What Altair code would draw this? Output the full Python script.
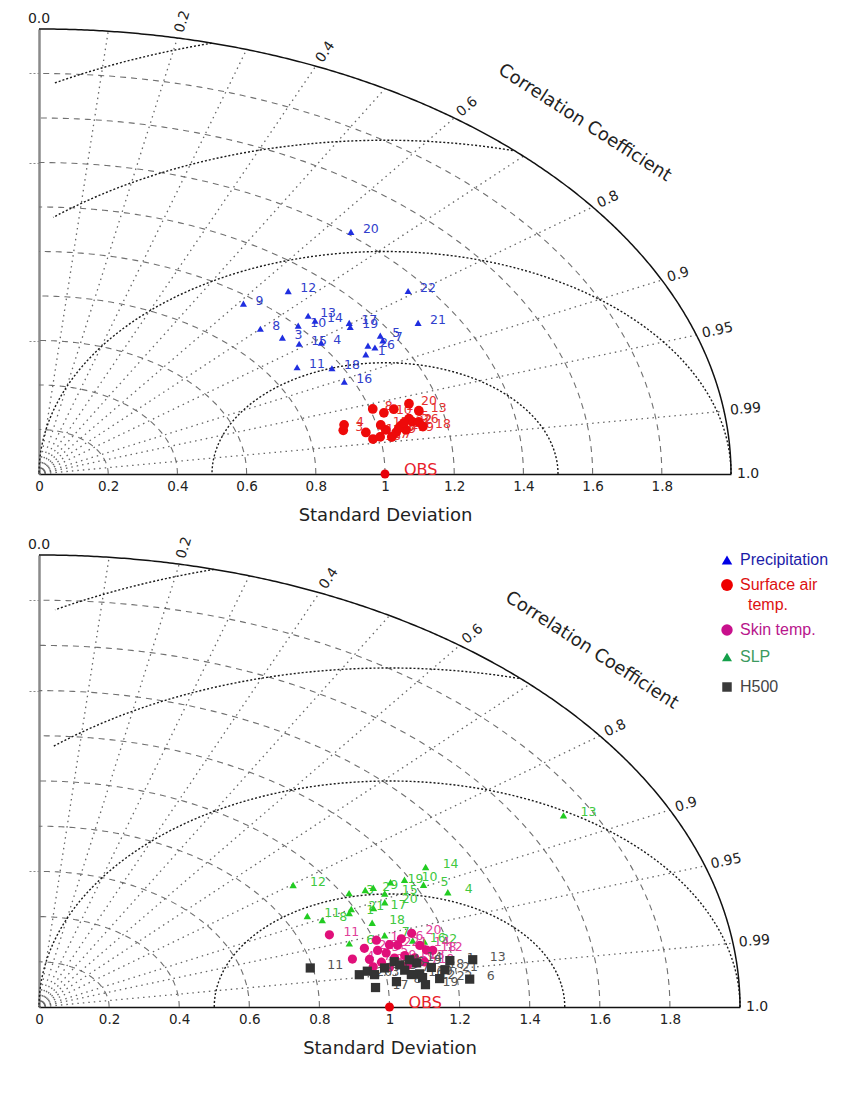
import math
import altair as alt
import pandas as pd

# ---------------- data ----------------
MODEL_LABELS = [str(i) for i in range(1, 23)]

# Top panel
PRECIP_STD = [1.087, 1.112, 0.933, 1.007, 1.166, 1.125, 1.161, 0.914, 0.967, 1.003, 0.887,
              1.093, 1.054, 1.054, 0.953, 0.975, 1.125, 0.971, 1.116, 1.413, 1.289, 1.347]
PRECIP_CORR = [0.869, 0.855, 0.754, 0.810, 0.846, 0.863, 0.856, 0.700, 0.611, 0.747, 0.841,
               0.659, 0.738, 0.757, 0.789, 0.905, 0.797, 0.872, 0.806, 0.638, 0.850, 0.792]

SAT_STD = [1.066, 1.104, 0.901, 0.909, 1.098, 1.122, 1.033, 1.008, 1.049, 1.034, 0.963,
           1.022, 1.134, 1.069, 1.012, 0.978, 1.000, 1.130, 1.079, 1.115, 1.060, 1.080]
SAT_CORR = [0.962, 0.977, 0.976, 0.970, 0.974, 0.978, 0.987, 0.957, 0.984, 0.964, 0.981,
            0.981, 0.968, 0.979, 0.976, 0.987, 0.986, 0.982, 0.983, 0.959, 0.981, 0.977]

# Bottom panel
SKIN_STD = [1.007, 1.037, 0.998, 0.919, 1.019, 1.077, 0.966, 0.997, 1.037, 1.068, 0.888,
            1.151, 1.094, 1.120, 0.970, 1.015, 1.068, 1.134, 1.118, 1.112, 1.059, 0.964]
SKIN_CORR = [0.956, 0.964, 0.968, 0.973, 0.972, 0.960, 0.976, 0.980, 0.978, 0.977, 0.933,
             0.976, 0.980, 0.970, 0.983, 0.985, 0.985, 0.975, 0.984, 0.956, 0.966, 0.963]

SLP_STD = [0.978, 1.065, 1.018, 1.272, 1.223, 0.929, 1.036, 0.895, 1.090, 1.185, 0.865,
           0.904, 1.720, 1.265, 1.107, 1.106, 1.050, 1.021, 1.145, 1.090, 0.991, 1.137]
SLP_CORR = [0.905, 0.874, 0.869, 0.917, 0.897, 0.953, 0.952, 0.903, 0.875, 0.880, 0.885,
            0.802, 0.870, 0.872, 0.891, 0.964, 0.909, 0.931, 0.876, 0.905, 0.899, 0.967]

H500_STD = [1.190, 0.950, 0.968, 1.033, 1.046, 1.235, 1.056, 1.026, 1.095, 1.096, 0.793,
            1.102, 1.255, 1.077, 1.001, 1.072, 0.964, 1.133, 1.107, 0.925, 1.170, 1.150]
H500_CORR = [0.985, 0.986, 0.989, 0.981, 0.984, 0.995, 0.988, 0.994, 0.984, 0.991, 0.976,
             0.993, 0.986, 0.981, 0.985, 0.991, 0.996, 0.988, 0.996, 0.988, 0.990, 0.994]

OBS_STD = [1.0]
OBS_CORR = [1.0]

# grid / tick values
SD_RINGS = [0.2, 0.4, 0.6, 0.8, 1.0, 1.2, 1.4, 1.6, 1.8]
RMS_RINGS = [0.5, 1.0, 1.5, 2.0]
CORR_LINES = [0.1, 0.2, 0.3, 0.4, 0.5, 0.6, 0.7, 0.8, 0.9, 0.95, 0.99]
CORR_TICKS = [0.2, 0.4, 0.6, 0.8, 0.9, 0.95, 0.99, 1.0]
CORR_TICK_LABELS = ["0.2", "0.4", "0.6", "0.8", "0.9", "0.95", "0.99", "1.0"]
X_TICKS = [0, 0.2, 0.4, 0.6, 0.8, 1.0, 1.2, 1.4, 1.6, 1.8]
Y_TICKS = [0.6, 1.4, 1.8]

FONT = "DejaVu Sans"
LFONT = "Liberation Sans"


def panel(W, H, series, legend=False):
    sc = alt.Scale(domain=[0, 2], nice=False, zero=False)
    xax = alt.Axis(values=X_TICKS, format=".1~f", ticks=False, grid=False,
                   domainColor="#111", domainWidth=1.4, labelFont=FONT,
                   labelFontSize=13.5, labelColor="#222", labelPadding=5,
                   labelFlush=False, labelOverlap=False, title="Standard Deviation",
                   titleFont=FONT, titleFontSize=18, titleFontWeight="normal",
                   titleColor="#222", titlePadding=14)
    yax = alt.Axis(values=Y_TICKS, labels=False, ticks=True, tickSize=10,
                   tickColor="#888", tickDash=[2, 2], tickWidth=1.2,
                   domainColor="#8a8a8a", domainWidth=2.5, grid=False, title=None)

    def X(f="x"):
        return alt.X(f"{f}:Q", scale=sc, axis=xax)

    def Y(f="y"):
        return alt.Y(f"{f}:Q", scale=sc, axis=yax)

    layers = []

    # std-dev rings centred on the origin
    rings = alt.Chart(pd.DataFrame({"r": SD_RINGS})).transform_calculate(
        t="sequence(0, 90.5, 0.5)").transform_flatten(["t"]).transform_calculate(
        x="datum.r*cos(datum.t*PI/180)", y="datum.r*sin(datum.t*PI/180)")
    layers.append(rings.mark_line(strokeDash=[6, 5], color="#707070", strokeWidth=1.1)
                  .encode(x=X(), y=Y(), detail="r:N", order="t:Q"))

    # correlation rays
    rays = alt.Chart(pd.DataFrame({"c": CORR_LINES})).transform_calculate(
        x0="0", y0="0", x="2*datum.c", y="2*sqrt(1-datum.c*datum.c)")
    layers.append(rays.mark_rule(strokeDash=[1.5, 4], color="#666", strokeWidth=1.3)
                  .encode(x=X("x0"), y=Y("y0"), x2=alt.X2("x"), y2=alt.Y2("y")))

    # centred RMS arcs around OBS
    rms = alt.Chart(pd.DataFrame({"rr": RMS_RINGS})).transform_calculate(
        p="sequence(0, 180.25, 0.25)").transform_flatten(["p"]).transform_calculate(
        x="1 + datum.rr*cos(datum.p*PI/180)", y="datum.rr*sin(datum.p*PI/180)"
    ).transform_filter(
        "datum.x*datum.x + datum.y*datum.y <= 4.0001 && (datum.rr <= 1 || datum.x >= 0.04)")
    layers.append(rms.mark_line(strokeDash=[2, 2], color="#1a1a1a", strokeWidth=1.4)
                  .encode(x=X(), y=Y(), detail="rr:N", order="p:Q"))

    # outer arc
    outer = alt.Chart(pd.DataFrame({"r": [2.0]})).transform_calculate(
        t="sequence(0, 90.25, 0.25)").transform_flatten(["t"]).transform_calculate(
        x="datum.r*cos(datum.t*PI/180)", y="datum.r*sin(datum.t*PI/180)")
    layers.append(outer.mark_line(color="#111", strokeWidth=1.5)
                  .encode(x=X(), y=Y(), order="t:Q"))

    # correlation tick labels
    angs = [(360 - math.degrees(math.atan2(H * math.sqrt(max(0.0, 1 - c * c)), W * c))) % 360
            for c in CORR_TICKS]
    clab = alt.Chart(pd.DataFrame({"c": CORR_TICKS, "lab": CORR_TICK_LABELS, "ang": angs})
                     ).transform_calculate(x="2*datum.c", y="2*sqrt(1-datum.c*datum.c)")
    layers.append(clab.mark_text(align="left", baseline="middle", dx=6, font=FONT,
                                 fontSize=14, color="#222")
                  .encode(x=X(), y=Y(), text="lab:N", angle=alt.Angle("ang:Q", scale=None)))
    zero = alt.Chart(pd.DataFrame({"c": [0.0]})).transform_calculate(
        x="2*datum.c", y="2*sqrt(1-datum.c*datum.c)")
    layers.append(zero.mark_text(text="0.0", align="center", baseline="bottom", dy=-3,
                                 font=FONT, fontSize=14, color="#222")
                  .encode(x=X(), y=Y()))

    # axis title along the arc
    ctitle = alt.Chart(pd.DataFrame({"r": [2.23]})).transform_calculate(
        x="datum.r*cos(PI/4)", y="datum.r*sin(PI/4)")
    layers.append(ctitle.mark_text(text="Correlation Coefficient", align="center",
                                   baseline="middle", angle=math.degrees(math.atan2(H, W)),
                                   font=FONT, fontSize=18, color="#222")
                  .encode(x=X(), y=Y()))

    # data series
    for s in series:
        df = pd.DataFrame({"sd": s["std"], "cc": s["corr"], "lab": s["lab"]})
        base = alt.Chart(df).transform_calculate(
            x="datum.sd*datum.cc", y="datum.sd*sqrt(1-datum.cc*datum.cc)")
        layers.append(base.mark_text(align="left", baseline="middle", dx=s["dx"], dy=-3,
                                     font=FONT, fontSize=12.5, color=s["lcolor"])
                      .encode(x=X(), y=Y(), text="lab:N"))
        layers.append(base.mark_point(shape=s["shape"], filled=True, size=s["size"],
                                      color=s["color"], opacity=1, strokeWidth=0)
                      .encode(x=X(), y=Y()))

    # OBS
    obs = alt.Chart(pd.DataFrame({"sd": OBS_STD, "cc": OBS_CORR})).transform_calculate(
        x="datum.sd*datum.cc", y="datum.sd*sqrt(1-datum.cc*datum.cc)")
    layers.append(obs.mark_point(shape="circle", filled=True, size=80, color="#e8000b",
                                 opacity=1, strokeWidth=0).encode(x=X(), y=Y()))
    layers.append(obs.mark_text(text="OBS", align="left", baseline="middle", dx=19, dy=-4,
                                font=FONT, fontSize=16, color="#e8202a")
                  .encode(x=X(), y=Y()))

    if legend:
        one = alt.Chart(pd.DataFrame({"k": [0]}))
        entries = [
            ("triangle-up", 110, "#0000e6", "Precipitation", "#1c1ca8", 5),
            ("circle", 140, "#ee0000", "Surface air", "#dd1111", 30),
            ("circle", 130, "#c8108c", "Skin temp.", "#b8168c", 75),
            ("triangle-up", 100, "#14a04a", "SLP", "#3c9a60", 102),
            ("square", 90, "#3a3a3a", "H500", "#444444", 132),
        ]
        for shape, size, col, txt, tcol, yy in entries:
            layers.append(one.mark_point(shape=shape, filled=True, size=size, color=col,
                                         opacity=1, strokeWidth=0)
                          .encode(x=alt.value(688), y=alt.value(yy)))
            layers.append(one.mark_text(text=txt, align="left", baseline="middle",
                                        font=LFONT, fontSize=16, color=tcol)
                          .encode(x=alt.value(701), y=alt.value(yy)))
        layers.append(one.mark_text(text="temp.", align="left", baseline="middle",
                                    font=LFONT, fontSize=16, color="#dd1111")
                      .encode(x=alt.value(709), y=alt.value(50)))

    return alt.layer(*layers).properties(width=W, height=H)


top_series = [
    dict(std=PRECIP_STD, corr=PRECIP_CORR, lab=MODEL_LABELS, shape="triangle-up", size=50,
         color="#1f2ee0", lcolor="#3040cc", dx=12),
    dict(std=SAT_STD, corr=SAT_CORR, lab=MODEL_LABELS, shape="circle", size=95,
         color="#ee0a0a", lcolor="#e43030", dx=12),
]
bottom_series = [
    dict(std=SLP_STD, corr=SLP_CORR, lab=MODEL_LABELS, shape="triangle-up", size=55,
         color="#22cc22", lcolor="#40c840", dx=17),
    dict(std=SKIN_STD, corr=SKIN_CORR, lab=MODEL_LABELS, shape="circle", size=85,
         color="#e0107a", lcolor="#e0409a", dx=14),
    dict(std=H500_STD, corr=H500_CORR, lab=MODEL_LABELS, shape="square", size=85,
         color="#333333", lcolor="#555555", dx=17),
]

top = panel(692, 445, top_series)
bottom = panel(701, 452, bottom_series, legend=True)

chart = alt.vconcat(top, bottom, spacing=81, bounds="flush").properties(
    padding={"left": 19, "top": 0, "right": 5, "bottom": 5}
).configure_view(stroke=None)

chart.save("out.html", embed_options={"renderer": "svg", "actions": False})
